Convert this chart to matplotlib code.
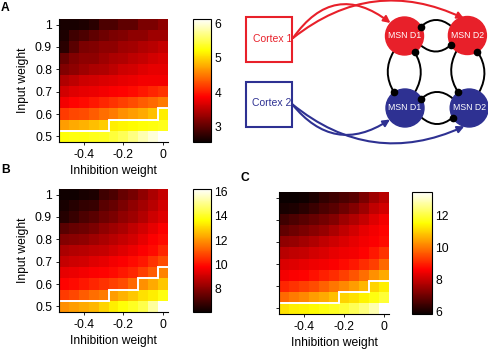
import numpy as np
import matplotlib
matplotlib.use("Agg")
import matplotlib.pyplot as plt
from matplotlib.patches import Rectangle, Circle, FancyArrowPatch

plt.rcParams['font.family'] = ['Liberation Sans', 'DejaVu Sans']
plt.rcParams['font.size'] = 8.7

# ---------------- data ----------------
inhibition_weight = [-0.5, -0.45, -0.4, -0.35, -0.3, -0.25, -0.2, -0.15, -0.1, -0.05, 0.0]
input_weight = [1.0, 0.95, 0.9, 0.85, 0.8, 0.75, 0.7, 0.65, 0.6, 0.55, 0.5]   # rows top -> bottom

panel_a = [
    [2.62, 2.62, 2.66, 2.73, 2.91, 2.91, 3.01, 3.01, 3.16, 3.16, 3.26],
    [2.66, 2.84, 2.91, 3.01, 3.09, 3.16, 3.19, 3.26, 3.26, 3.34, 3.34],
    [2.73, 2.98, 3.16, 3.19, 3.26, 3.26, 3.34, 3.37, 3.44, 3.48, 3.55],
    [3.05, 3.19, 3.26, 3.26, 3.34, 3.41, 3.44, 3.51, 3.55, 3.62, 3.66],
    [3.19, 3.26, 3.34, 3.41, 3.44, 3.51, 3.59, 3.62, 3.69, 3.73, 3.73],
    [3.44, 3.51, 3.59, 3.62, 3.66, 3.69, 3.73, 3.76, 3.80, 3.80, 3.80],
    [3.62, 3.69, 3.73, 3.76, 3.80, 3.84, 3.87, 3.91, 3.98, 4.05, 4.12],
    [3.80, 3.87, 3.91, 3.98, 4.05, 4.12, 4.19, 4.26, 4.34, 4.41, 4.51],
    [4.16, 4.23, 4.26, 4.34, 4.44, 4.51, 4.62, 4.69, 4.76, 4.87, 5.12],
    [4.69, 4.76, 4.80, 4.87, 4.94, 5.12, 5.16, 5.19, 5.23, 5.26, 5.30],
    [5.23, 5.26, 5.26, 5.30, 5.33, 5.41, 5.51, 5.66, 5.83, 5.98, 6.12],
]
panel_b = [
    [6.20, 6.20, 6.30, 6.40, 6.91, 7.11, 7.51, 7.72, 8.12, 8.52, 8.93],
    [6.30, 6.50, 6.71, 6.81, 7.31, 7.51, 7.82, 8.12, 8.42, 8.73, 9.13],
    [6.50, 6.81, 7.11, 7.31, 7.62, 7.82, 8.12, 8.32, 8.63, 9.03, 9.33],
    [7.31, 7.51, 7.62, 7.82, 8.12, 8.32, 8.52, 8.83, 9.13, 9.43, 9.74],
    [7.92, 8.02, 8.12, 8.32, 8.52, 8.73, 8.93, 9.13, 9.43, 9.74, 9.94],
    [8.52, 8.63, 8.73, 8.83, 8.93, 9.13, 9.33, 9.53, 9.74, 9.94, 10.34],
    [8.93, 9.03, 9.13, 9.33, 9.43, 9.64, 9.74, 9.94, 10.14, 10.54, 10.95],
    [9.43, 9.53, 9.64, 9.74, 9.84, 9.94, 10.14, 10.34, 10.75, 11.15, 11.76],
    [9.84, 9.94, 10.14, 10.34, 10.54, 10.75, 10.95, 11.35, 11.96, 12.36, 12.77],
    [10.65, 10.85, 11.15, 11.45, 11.66, 12.16, 12.46, 12.77, 13.17, 13.37, 13.78],
    [11.96, 12.16, 12.36, 12.56, 12.97, 13.37, 13.68, 13.98, 14.38, 15.19, 16.20],
]
panel_c = [
    [5.83, 5.83, 5.91, 6.06, 6.29, 6.44, 6.60, 6.75, 7.13, 7.51, 7.82],
    [5.98, 6.06, 6.21, 6.37, 6.60, 6.75, 6.98, 7.21, 7.51, 7.90, 8.13],
    [6.44, 6.60, 6.75, 6.90, 7.05, 7.21, 7.51, 7.74, 7.97, 8.28, 8.51],
    [6.82, 6.98, 7.13, 7.28, 7.44, 7.67, 7.90, 8.13, 8.35, 8.51, 8.66],
    [7.36, 7.44, 7.59, 7.74, 7.90, 8.05, 8.20, 8.35, 8.51, 8.58, 8.74],
    [7.82, 7.90, 7.97, 8.13, 8.20, 8.35, 8.43, 8.51, 8.66, 8.89, 9.20],
    [8.20, 8.28, 8.35, 8.43, 8.51, 8.58, 8.74, 8.89, 9.12, 9.35, 9.81],
    [8.51, 8.58, 8.66, 8.81, 8.97, 9.12, 9.35, 9.58, 9.88, 10.27, 10.57],
    [9.04, 9.20, 9.35, 9.50, 9.73, 9.96, 10.19, 10.42, 10.73, 11.03, 11.34],
    [9.81, 10.04, 10.19, 10.42, 10.57, 10.80, 11.03, 11.19, 11.41, 11.64, 11.95],
    [11.19, 11.34, 11.41, 11.49, 11.64, 11.80, 11.95, 12.18, 12.49, 12.87, 13.48],
]

# white threshold contour (input weight boundary for each inhibition column)
boundary_a = [0.525, 0.525, 0.525, 0.525, 0.525, 0.575, 0.575, 0.575, 0.575, 0.575, 0.625]
boundary_b = [0.525, 0.525, 0.525, 0.525, 0.525, 0.575, 0.575, 0.575, 0.625, 0.625, 0.675]
boundary_c = [0.525, 0.525, 0.525, 0.525, 0.525, 0.525, 0.575, 0.575, 0.575, 0.625, 0.625]

clim_a = (2.55, 6.12)
clim_b = (6.1, 16.2)
clim_c = (5.83, 13.48)
cticks_a = [3, 4, 5, 6]
cticks_b = [8, 10, 12, 14, 16]
cticks_c = [6, 8, 10, 12]
xticks = [-0.4, -0.2, 0]
xticklabels = ['-0.4', '-0.2', '0']
yticks = [0.5, 0.6, 0.7, 0.8, 0.9, 1.0]
yticklabels = ['0.5', '0.6', '0.7', '0.8', '0.9', '1']

# ---------------- figure ----------------
W, H = 489, 350
fig = plt.figure(figsize=(W / 100, H / 100), dpi=100)


def px_axes(l, t, r, b):
    return fig.add_axes([l / W, 1 - b / H, (r - l) / W, (b - t) / H])


xc = np.array(inhibition_weight)
yc = np.array(input_weight)[::-1]
x_edges = np.concatenate([xc - 0.025, [xc[-1] + 0.025]])


def heat(ax, cax, Z, clim, cticks, boundary, ylab=True):
    Z = np.array(Z)[::-1]
    m = ax.pcolormesh(xc, yc, Z, cmap='hot', vmin=clim[0], vmax=clim[1],
                      shading='nearest')
    ax.stairs(boundary, x_edges, baseline=None, color='white', lw=1.4)
    ax.set_xlim(x_edges[0], x_edges[-1])
    ax.set_ylim(yc[0] - 0.025, yc[-1] + 0.025)
    ax.set_xticks(xticks)
    ax.set_xticklabels(xticklabels)
    ax.set_yticks(yticks)
    if ylab:
        ax.set_yticklabels(yticklabels)
        ax.set_ylabel('Input weight', labelpad=4)
    else:
        ax.set_yticklabels([])
    ax.set_xlabel('Inhibition weight', labelpad=3)
    for s in ['top', 'right']:
        ax.spines[s].set_visible(False)
    for s in ['left', 'bottom']:
        ax.spines[s].set_linewidth(0.8)
    ax.tick_params(direction='out', length=2, width=0.6, pad=3)
    cb = fig.colorbar(m, cax=cax, ticks=cticks)
    cb.outline.set_linewidth(0.8)
    cax.tick_params(length=0, pad=2.5)
    return m


axA = px_axes(59, 19, 168, 142)
caxA = px_axes(193, 19, 211, 142)
heat(axA, caxA, panel_a, clim_a, cticks_a, boundary_a)

axB = px_axes(59, 189, 168, 312)
caxB = px_axes(193, 189, 211, 312)
heat(axB, caxB, panel_b, clim_b, cticks_b, boundary_b)

axC = px_axes(279, 192, 389, 314)
caxC = px_axes(412, 192, 432, 314)
heat(axC, caxC, panel_c, clim_c, cticks_c, boundary_c, ylab=False)

fig.text(1 / W, 1 - 2 / H, 'A', fontweight='bold', va='top', ha='left', fontsize=8.7)
fig.text(1 / W, 1 - 164 / H, 'B', fontweight='bold', va='top', ha='left', fontsize=8.7)
fig.text(241 / W, 1 - 172 / H, 'C', fontweight='bold', va='top', ha='left', fontsize=8.7)

# ---------------- network diagram ----------------
red = '#e8202a'
blue = '#2e3192'
ov = fig.add_axes([0, 0, 1, 1])
ov.set_xlim(0, W)
ov.set_ylim(H, 0)
ov.axis('off')
ov.patch.set_alpha(0)

ov.add_patch(Rectangle((246, 17), 46, 45, fill=False, ec=red, lw=1.5))
ov.text(273, 38.5, 'Cortex 1', color=red, ha='center', va='center', fontsize=7.5)
ov.add_patch(Rectangle((246, 82), 46, 45, fill=False, ec=blue, lw=1.5))
ov.text(272, 103.5, 'Cortex 2', color=blue, ha='center', va='center', fontsize=7.5)

R = 19
nodes = {
    'r1': ((404.5, 36), red, 'MSN D1'),
    'r2': ((467.4, 35.5), red, 'MSN D2'),
    'b1': ((405, 108), blue, 'MSN D1'),
    'b2': ((469.2, 108), blue, 'MSN D2'),
}
for (c, col, lab) in nodes.values():
    ov.add_patch(Circle(c, R, color=col, zorder=2))
    ov.text(c[0], c[1], lab, color='white', ha='center', va='center',
            fontsize=6.3, zorder=4)


def pt(key, ang):
    (cx, cy), _, _ = nodes[key]
    a = np.deg2rad(ang)
    return (cx + R * np.cos(a), cy - R * np.sin(a))


# inhibitory arcs (start, end, curvature) -> dot at end
arcs = [
    (pt('r2', 150), pt('r1', 30), 0.42),
    (pt('r1', 330), pt('r2', 210), 0.42),
    (pt('b2', 150), pt('b1', 30), 0.42),
    (pt('b1', 330), pt('b2', 210), 0.42),
    (pt('r1', 235), pt('b1', 125), 0.3),
    (pt('b1', 58), pt('r1', 302), 0.3),
    (pt('r2', 235), pt('b2', 125), 0.3),
    (pt('b2', 58), pt('r2', 302), 0.3),
]
for a, b, rad in arcs:
    ov.add_patch(FancyArrowPatch(a, b, connectionstyle=f'arc3,rad={rad}',
                                 arrowstyle='-', color='k', lw=1.4,
                                 shrinkA=0, shrinkB=0, zorder=1))
    ov.plot([b[0]], [b[1]], 'o', color='k', ms=4.5, zorder=3)

# excitatory cortical inputs
inputs = [
    ((293, 38), (390.5, 23), -0.52, red),
    ((293, 38), (464, 18.5), -0.31, red),
    ((292, 104), (390, 119.5), 0.45, blue),
    ((292, 104), (464.3, 126.3), 0.31, blue),
]
for a, b, rad, col in inputs:
    ov.add_patch(FancyArrowPatch(a, b, connectionstyle=f'arc3,rad={rad}',
                                 arrowstyle='-|>', mutation_scale=10,
                                 color=col, lw=1.5, shrinkA=0, shrinkB=0,
                                 zorder=1))

fig.savefig('out.png', dpi=100)
